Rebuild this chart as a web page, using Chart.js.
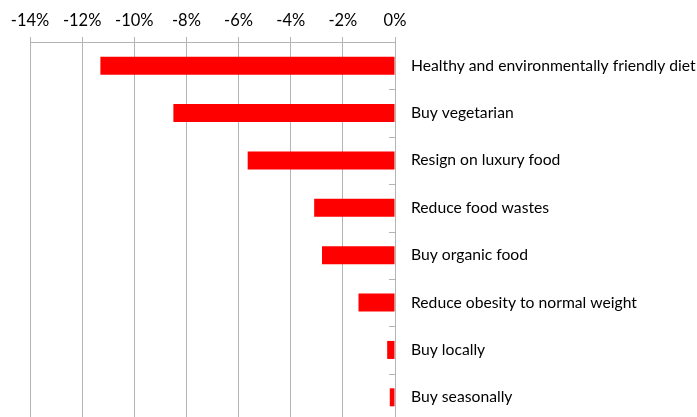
<!DOCTYPE html>
<html>
<head>
<meta charset="utf-8">
<script src="https://cdn.jsdelivr.net/npm/chart.js@4"></script>
<style>
  html, body { margin: 0; padding: 0; background: #fff; overflow: hidden; }
  canvas { display: block; }
</style>
</head>
<body>
<canvas id="chart" width="697" height="421"></canvas>
<script>
// change per measure, in percent
const measures = [
    'Healthy and environmentally friendly diet',
    'Buy vegetarian',
    'Resign on luxury food',
    'Reduce food wastes',
    'Buy organic food',
    'Reduce obesity to normal weight',
    'Buy locally',
    'Buy seasonally'
];
const changes = [-11.3, -8.5, -5.65, -3.1, -2.8, -1.4, -0.3, -0.2];
const xTicks = [-14, -12, -10, -8, -6, -4, -2, 0];

const gridGray = '#b4b4b4';
const fontFamily = 'Lato, "Open Sans", sans-serif';

// small inside tick marks on the category axis, between the categories
const categoryTicks = {
    id: 'categoryTicks',
    afterDraw(chart) {
        const y = chart.scales.y;
        const ctx = chart.ctx;
        const x0 = chart.chartArea.right;
        ctx.save();
        ctx.strokeStyle = gridGray;
        ctx.lineWidth = 1;
        for (let i = 0; i < measures.length - 1; i++) {
            const py = Math.round((y.getPixelForValue(i) + y.getPixelForValue(i + 1)) / 2) + 0.5;
            ctx.beginPath();
            ctx.moveTo(x0 - 6, py);
            ctx.lineTo(x0, py);
            ctx.stroke();
        }
        ctx.restore();
    }
};

new Chart(document.getElementById('chart'), {
    type: 'bar',
    data: {
        labels: measures,
        datasets: [{
            data: changes,
            backgroundColor: '#ff0000',
            borderWidth: 0,
            categoryPercentage: 1,
            barPercentage: 0.38
        }]
    },
    options: {
        indexAxis: 'y',
        responsive: false,
        animation: false,
        layout: { padding: { left: 30, top: 0, right: 0, bottom: 0 } },
        plugins: { legend: { display: false }, tooltip: { enabled: false } },
        scales: {
            x: {
                position: 'top',
                min: -14,
                max: 0,
                afterBuildTicks: (scale) => { scale.ticks = xTicks.map((v) => ({ value: v })); },
                afterFit: (scale) => { scale.height = 42; },
                grid: { color: gridGray, tickLength: 5, lineWidth: 1 },
                border: { color: gridGray },
                ticks: {
                    padding: 6,
                    color: '#000',
                    font: { family: fontFamily, size: 16.5 },
                    callback: (v) => v + '%'
                }
            },
            y: {
                position: 'right',
                afterFit: (scale) => {
                    scale.width = 302;
                    scale.paddingTop = 0;
                    scale.paddingBottom = 0;
                },
                grid: { display: false, drawTicks: false },
                border: { display: true, color: gridGray },
                ticks: {
                    padding: 16,
                    color: '#000',
                    font: { family: fontFamily, size: 15.7 }
                }
            }
        }
    },
    plugins: [categoryTicks]
});
</script>
</body>
</html>
